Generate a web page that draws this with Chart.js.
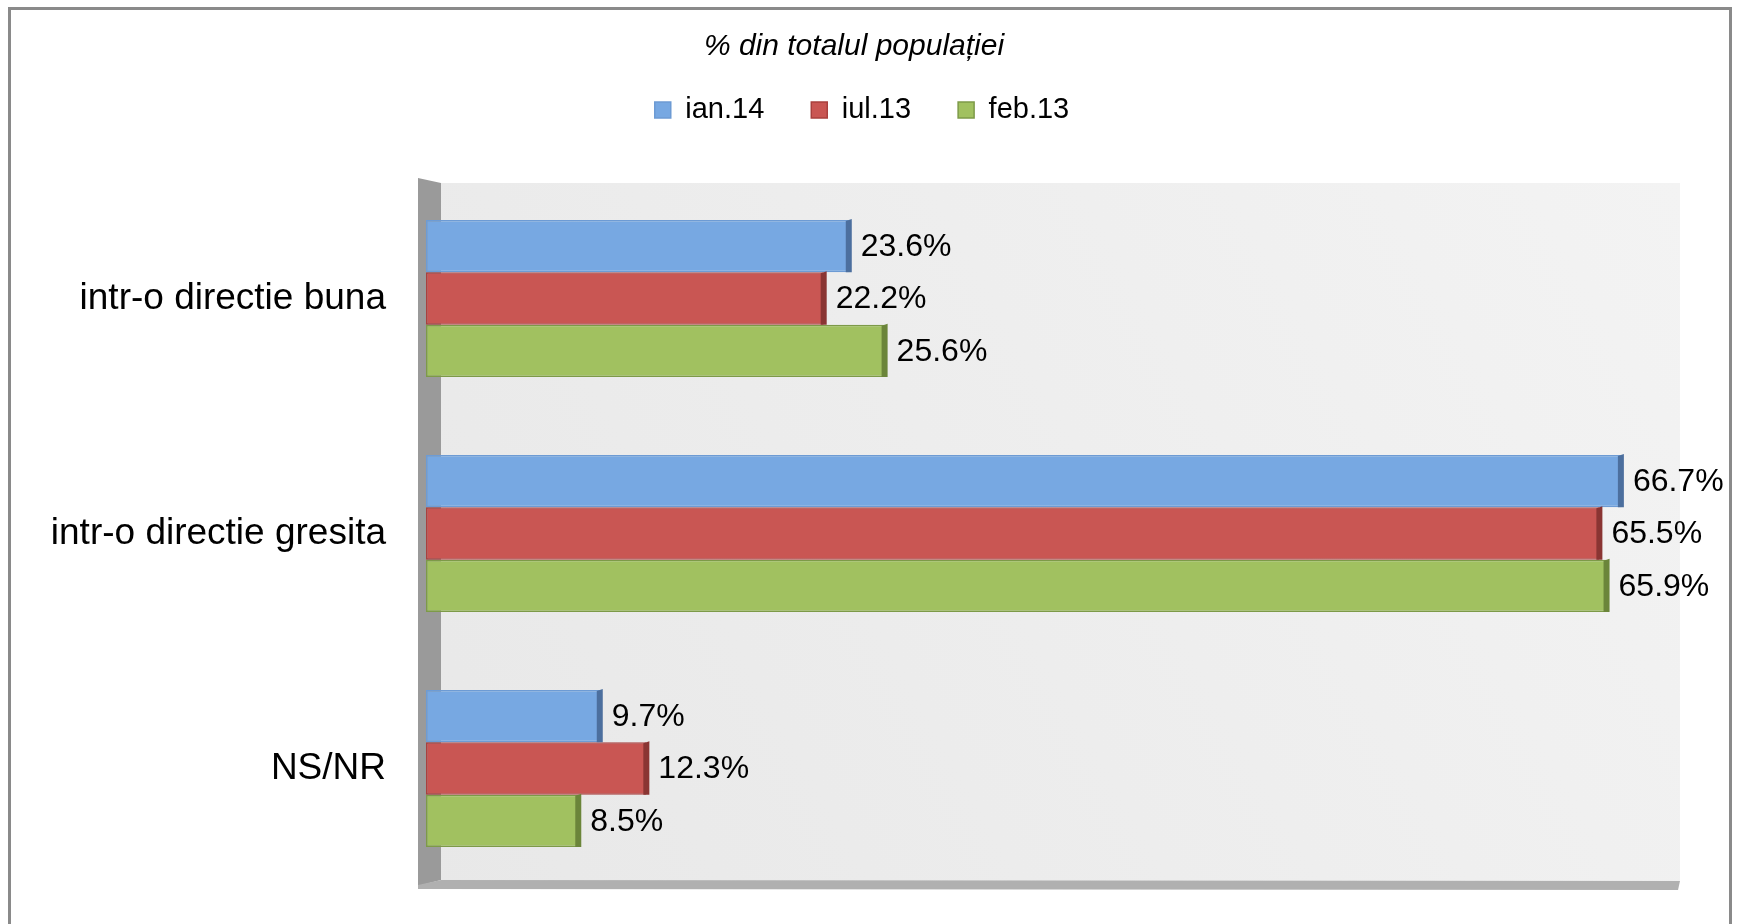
<!DOCTYPE html>
<html>
<head>
<meta charset="utf-8">
<title>% din totalul populației</title>
<script src="https://cdn.jsdelivr.net/npm/chart.js@4.4.0/dist/chart.umd.min.js"></script>
<style>
  html, body { margin: 0; padding: 0; background: #fff; }
  #wrap { width: 1738px; height: 924px; }
</style>
</head>
<body>
<div id="wrap"><canvas id="chart" width="1738" height="924"></canvas></div>
<script>
// ---- data ----
const categories = ["intr-o directie buna", "intr-o directie gresita", "NS/NR"];
const seriesNames = ["ian.14", "iul.13", "feb.13"];
const ian14 = [23.6, 66.7, 9.7];
const iul13 = [22.2, 65.5, 12.3];
const feb13 = [25.6, 65.9, 8.5];
const xMin = 0, xMax = 70;

// ---- styles ----
const FONT = "'Liberation Sans', Arial, sans-serif";
const fills   = ["#77a8e2", "#c95653", "#a1c160"];
const borders = ["#6d9bd4", "#a9403e", "#7d9a48"];
const sides   = ["#4c6f9e", "#8a3533", "#6b853a"];

// frame + fake 3d walls behind the bars
const wallsPlugin = {
  id: "walls",
  afterLayout(chart) {
    // title/legend are centred over the page, not over the plot (right padding)
    chart.titleBlock.left += 14; chart.titleBlock.right += 14;
    chart.legend.left += 22; chart.legend.right += 22;
  },
  beforeDraw(chart) {
    const ctx = chart.ctx;
    ctx.save();
    ctx.fillStyle = "#fff";
    ctx.fillRect(0, 0, chart.width, chart.height);
    ctx.strokeStyle = "#8a8a8a";
    ctx.lineWidth = 3;
    ctx.strokeRect(9.5, 8.5, 1721, 940);
    ctx.restore();
  },
  beforeDatasetsDraw(chart) {
    const { ctx, chartArea: a } = chart;
    ctx.save();
    // back wall
    const g = ctx.createLinearGradient(a.left, a.bottom, a.right, a.top);
    g.addColorStop(0, "#e8e8e8");
    g.addColorStop(1, "#f3f3f3");
    ctx.fillStyle = g;
    ctx.fillRect(a.left + 15, a.top + 2, a.right - a.left - 15, a.bottom - a.top - 6);
    // left side wall
    ctx.fillStyle = "#9a9a9a";
    ctx.beginPath();
    ctx.moveTo(a.left - 8, a.top - 3);
    ctx.lineTo(a.left + 15, a.top + 2);
    ctx.lineTo(a.left + 15, a.bottom - 6);
    ctx.lineTo(a.left - 8, a.bottom);
    ctx.closePath();
    ctx.fill();
    // floor edge
    ctx.fillStyle = "#b0b0b0";
    ctx.beginPath();
    ctx.moveTo(a.left - 8, a.bottom - 1);
    ctx.lineTo(a.left + 15, a.bottom - 6);
    ctx.lineTo(a.right, a.bottom - 5);
    ctx.lineTo(a.right - 2, a.bottom + 4);
    ctx.lineTo(a.left - 8, a.bottom + 3);
    ctx.closePath();
    ctx.fill();
    ctx.restore();
  },
  afterDatasetsDraw(chart) {
    const ctx = chart.ctx;
    ctx.save();
    chart.data.datasets.forEach((ds, i) => {
      chart.getDatasetMeta(i).data.forEach((bar, j) => {
        const top = bar.y - bar.height / 2;
        // side face of the bar
        ctx.fillStyle = sides[i];
        ctx.beginPath();
        ctx.moveTo(bar.x - 3, top + 1);
        ctx.lineTo(bar.x + 3, top - 1);
        ctx.lineTo(bar.x + 3, top + bar.height);
        ctx.lineTo(bar.x - 3, top + bar.height);
        ctx.closePath();
        ctx.fill();
        // value label
        ctx.fillStyle = "#000";
        ctx.font = "32px " + FONT;
        ctx.textAlign = "left";
        ctx.textBaseline = "middle";
        ctx.fillText(ds.data[j].toFixed(1) + "%", bar.x + 12, bar.y + 1);
      });
    });
    ctx.restore();
  }
};

const datasets = [ian14, iul13, feb13].map((vals, i) => ({
  label: seriesNames[i],
  data: vals,
  backgroundColor: fills[i],
  borderColor: borders[i],
  borderWidth: 1.5,
  borderSkipped: false,
  categoryPercentage: 0.668,
  barPercentage: 1.0
}));

new Chart(document.getElementById("chart"), {
  type: "bar",
  data: { labels: categories, datasets },
  plugins: [wallsPlugin],
  options: {
    responsive: false,
    animation: false,
    indexAxis: "y",
    layout: { padding: { left: 0, right: 58, top: 0, bottom: 38 } },
    plugins: {
      title: {
        display: true,
        text: "% din totalul populației",
        color: "#000",
        font: { family: FONT, size: 30, style: "italic", weight: "normal" },
        padding: { top: 29, bottom: -16.5 }
      },
      legend: {
        display: true,
        position: "top",
        labels: {
          color: "#000",
          font: { family: FONT, size: 29 },
          boxWidth: 16,
          boxHeight: 16,
          padding: 47
        }
      },
      tooltip: { enabled: false }
    },
    scales: {
      x: {
        position: "top",
        min: xMin,
        max: xMax,
        grid: { display: false },
        border: { display: false },
        ticks: { display: false },
        afterFit(s) { s.height = 46.5; }
      },
      y: {
        grid: { display: false, drawTicks: false },
        border: { display: false },
        ticks: {
          color: "#000",
          padding: 40,
          font: { family: FONT, size: 37 }
        },
        afterFit(s) {
          s.width = 426;
          // labels sit mid-category, no extra room needed above/below
          s.paddingTop = 0;
          s.paddingBottom = 0;
        }
      }
    }
  }
});
</script>
</body>
</html>
